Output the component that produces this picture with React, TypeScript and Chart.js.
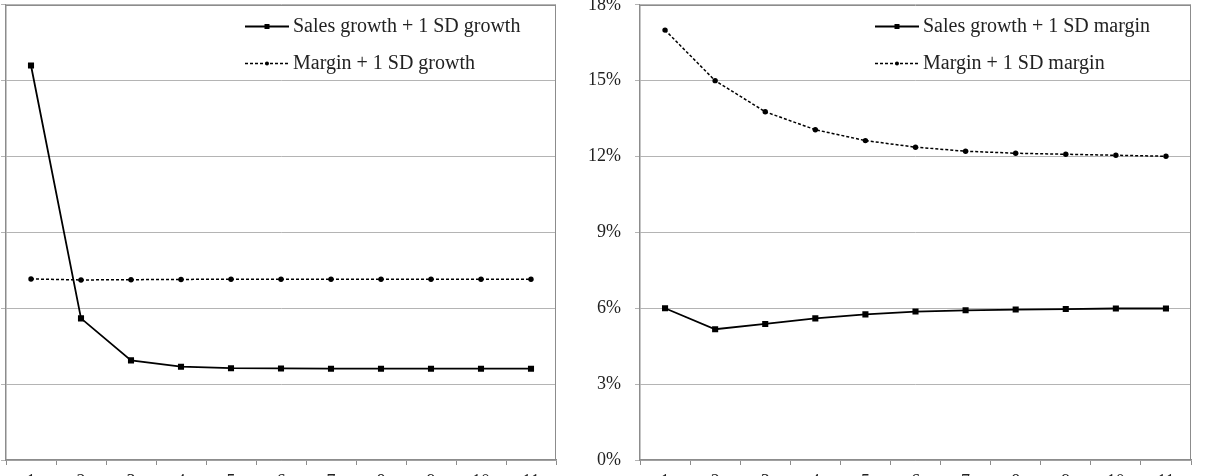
import React, { useEffect, useRef } from 'react';
import { Chart, registerables } from 'chart.js';

Chart.register(...registerables);

// ---- data ----
const categories = ['1', '2', '3', '4', '5', '6', '7', '8', '9', '10', '11'];

// Left panel (+1 SD growth)
const salesGrowthPlusSdGrowth = [15.6, 5.6, 3.94, 3.69, 3.63, 3.62, 3.61, 3.61, 3.61, 3.61, 3.61];
const marginPlusSdGrowth = [7.16, 7.12, 7.13, 7.14, 7.15, 7.15, 7.15, 7.15, 7.15, 7.15, 7.15];

// Right panel (+1 SD margin)
const salesGrowthPlusSdMargin = [6.0, 5.17, 5.38, 5.6, 5.76, 5.87, 5.92, 5.95, 5.97, 5.99, 5.99];
const marginPlusSdMargin = [17.0, 15.0, 13.77, 13.06, 12.63, 12.37, 12.21, 12.13, 12.09, 12.05, 12.01];

const yMin = 0;
const yMax = 18;
const yStep = 3;

const leftLabels = ['Sales growth + 1 SD growth', 'Margin + 1 SD growth'];
const rightLabels = ['Sales growth + 1 SD margin', 'Margin + 1 SD margin'];

const FONT = "'Liberation Serif', 'Times New Roman', serif";
const TEXT = '#222222';
const GRID = '#b4b4b4';
const AXIS = '#8c8c8c';

function makeConfig(labels: string[], solid: number[], dashed: number[], legendOffset: number, padRight: number) {
  const frame = {
    id: 'frameAndLegend',
    afterDatasetsDraw(chart: any) {
      const { ctx, chartArea } = chart;
      const { left, right, top, bottom } = chartArea;
      ctx.save();
      // plot border (top and right)
      ctx.strokeStyle = AXIS;
      ctx.lineWidth = 1;
      ctx.beginPath();
      ctx.moveTo(left, Math.round(top) + 0.5);
      ctx.lineTo(right, Math.round(top) + 0.5);
      ctx.moveTo(Math.round(right) - 0.5, top);
      ctx.lineTo(Math.round(right) - 0.5, bottom);
      ctx.stroke();

      // legend
      const rows = [top + 21, top + 58];
      const x0 = right - legendOffset;
      const x1 = x0 + 44;
      chart.data.datasets.forEach((ds: any, i: number) => {
        const y = Math.round(rows[i]) + 0.5;
        ctx.strokeStyle = ds.borderColor;
        ctx.lineWidth = ds.borderWidth;
        ctx.setLineDash(ds.borderDash || []);
        ctx.beginPath();
        ctx.moveTo(x0, y);
        ctx.lineTo(x1, y);
        ctx.stroke();
        ctx.setLineDash([]);
        ctx.fillStyle = ds.pointBackgroundColor;
        const mx = (x0 + x1) / 2;
        if (ds.pointStyle === 'rect') {
          ctx.fillRect(mx - 2.5, y - 2.5, 5, 5);
        } else {
          ctx.beginPath();
          ctx.arc(mx, y, 2, 0, Math.PI * 2);
          ctx.fill();
        }
        ctx.fillStyle = TEXT;
        ctx.font = `20px ${FONT}`;
        ctx.textAlign = 'left';
        ctx.textBaseline = 'middle';
        ctx.fillText(ds.label, x1 + 4, rows[i] + 1);
      });
      ctx.restore();
    },
  };

  return {
    type: 'line' as const,
    data: {
      labels: categories,
      datasets: [
        {
          label: labels[0],
          data: solid,
          borderColor: '#000000',
          backgroundColor: '#000000',
          pointBackgroundColor: '#000000',
          pointBorderColor: '#000000',
          borderWidth: 1.8,
          pointStyle: 'rect',
          pointRadius: 4.3,
          pointBorderWidth: 0,
          tension: 0,
          fill: false,
        },
        {
          label: labels[1],
          data: dashed,
          borderColor: '#000000',
          backgroundColor: '#000000',
          pointBackgroundColor: '#000000',
          pointBorderColor: '#000000',
          borderWidth: 1.5,
          borderDash: [3, 2],
          pointStyle: 'circle',
          pointRadius: 2.7,
          pointBorderWidth: 0,
          tension: 0,
          fill: false,
        },
      ],
    },
    options: {
      animation: false,
      responsive: false,
      maintainAspectRatio: false,
      layout: { padding: { top: 23, right: padRight, left: 0, bottom: 0 } },
      plugins: {
        legend: { display: false },
        tooltip: { enabled: false },
        title: { display: false },
      },
      scales: {
        x: {
          type: 'category',
          offset: true,
          grid: {
            offset: true,
            drawOnChartArea: false,
            drawTicks: true,
            tickLength: 5,
            color: AXIS,
          },
          border: { display: true, color: AXIS, width: 1.5 },
          ticks: {
            padding: 6,
            color: TEXT,
            font: { family: FONT, size: 18 },
            maxRotation: 0,
            autoSkip: false,
          },
          afterFit: (scale: any) => {
            scale.height = 40;
          },
        },
        y: {
          min: yMin,
          max: yMax,
          grid: {
            color: GRID,
            drawTicks: true,
            tickLength: 5,
            lineWidth: 1,
          },
          border: { display: true, color: AXIS, width: 1.5 },
          ticks: {
            stepSize: yStep,
            padding: 14,
            color: TEXT,
            font: { family: FONT, size: 18 },
            callback: (v: any) => `${v}%`,
          },
          afterFit: (scale: any) => {
            scale.width = 60;
          },
        },
      },
    },
    plugins: [frame],
  };
}

function Panel(props: {
  left: number;
  labels: string[];
  solid: number[];
  dashed: number[];
  legendOffset: number;
  padRight: number;
}) {
  const ref = useRef<HTMLCanvasElement | null>(null);
  useEffect(() => {
    if (!ref.current) return;
    const chart = new Chart(
      ref.current,
      makeConfig(props.labels, props.solid, props.dashed, props.legendOffset, props.padRight) as any
    );
    return () => chart.destroy();
  }, []);
  return (
    <canvas
      ref={ref}
      width={620}
      height={520}
      style={{ position: 'absolute', left: props.left, top: -20, width: 620, height: 520 }}
    />
  );
}

export default function App() {
  return (
    <div
      style={{
        position: 'fixed',
        left: 0,
        top: 0,
        width: 1218,
        height: 476,
        overflow: 'hidden',
        background: '#ffffff',
      }}
    >
      <Panel
        left={-54}
        labels={leftLabels}
        solid={salesGrowthPlusSdGrowth}
        dashed={marginPlusSdGrowth}
        legendOffset={311}
        padRight={10}
      />
      <Panel
        left={580}
        labels={rightLabels}
        solid={salesGrowthPlusSdMargin}
        dashed={marginPlusSdMargin}
        legendOffset={316}
        padRight={9}
      />
    </div>
  );
}
